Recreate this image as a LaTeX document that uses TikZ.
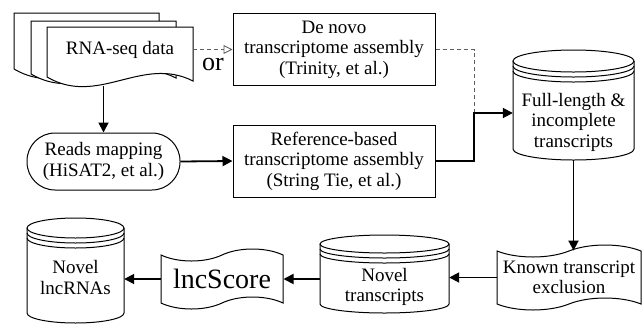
\documentclass[tikz,border=0pt]{standalone}
\usepackage{fontspec}
\setmainfont{Liberation Serif}
\usepackage{tikz}
\usetikzlibrary{arrows.meta,positioning,calc,shapes.symbols}
\newcommand{\sheet}[4]{%
  \draw[shp, fill=white] (#1,-#3) -- (#2,-#3) -- (#2,{-(#4+4)})
    .. controls ({#1+0.65*(#2-#1)},{-(#4-22)}) and ({#1+0.35*(#2-#1)},{-(#4+30)}) .. (#1,-#4) -- cycle;}
\newcommand{\drum}[6]{%
  \draw[shp] (#2,{-(#4+#6)}) -- (#2,{-(#5-#6)})
    arc[start angle=180, end angle=360, x radius={(#3-#2)/2}, y radius=#6]
    -- (#3,{-(#4+#6)});
  \draw[shp] ({(#2+#3)/2},{-(#4+#6)}) ellipse[x radius={(#3-#2)/2}, y radius=#6];
  \foreach \rr in {5,10}
    \draw[shp] (#2,{-(#4+#6+\rr)}) arc[start angle=180, end angle=360, x radius={(#3-#2)/2}, y radius=#6];
  \coordinate (#1-bot) at ({(#2+#3)/2},{-#5});}
\tikzset{
  shp/.style     = {line width=1pt},
  txt/.style     = {align=center, inner sep=0pt},
  box/.style     = {txt, draw, line width=1pt, minimum width=202pt, minimum height=72pt},
  pill/.style    = {txt, draw, line width=1pt, rounded corners=28pt,
                    minimum width=153pt, minimum height=57pt},
  tapebox/.style = {txt, tape, draw, line width=1pt, tape bend top=in and out,
                    tape bend bottom=in and out, tape bend height=12pt},
  arr/.style     = {->, line width=1.8pt},
  dsh/.style     = {line width=0.9pt, draw=gray!75!black, dash pattern=on 4pt off 3pt},
  big/.style     = {font=\fontsize{28}{30}\selectfont},
}
\begin{document}
\begin{tikzpicture}[x=1pt, y=1pt, >={Triangle[length=10pt,width=10pt]},
    font=\fontsize{19}{20.5}\selectfont]
  \useasboundingbox (0,0) rectangle (643,-325);

  \sheet{14}{159}{13}{69}
  \sheet{31}{176}{21}{74}
  \sheet{47}{193}{27}{77}
  \node[txt, minimum width=146pt, minimum height=45pt] (rna) at (120,-49.5) {RNA-seq data};

  \node[box] (denovo) at (334,-49.5) {De novo\\transcriptome assembly\\(Trinity, et al.)};
  \node[box] (ref) at (334,-161) {Reference-based\\transcriptome assembly\\(String Tie, et al.)};
  \node[pill] (reads) at (103.5,-161.5) {Reads mapping\\(HiSAT2, et al.)};

  \drum{full}{513}{634}{50}{160}{11}
  \node[txt, minimum width=121pt] (full) at (573.5,-122) {Full-length \&\\incomplete\\transcripts};

  \node[tapebox, minimum width=144pt, minimum height=65pt] (known) at (569,-277.5) {Known transcript\\exclusion};

  \drum{novel}{320}{449}{235}{313}{9}
  \node[txt, minimum width=129pt] (novel) at (384.5,-287) {Novel\\transcripts};

  \node[tapebox, big, minimum width=122pt, minimum height=60pt] (lnc) at (222,-279) {lncScore};

  \drum{lncrna}{27}{124}{218}{323}{10}
  \node[txt, minimum width=97pt] (lncrna) at (75.5,-277.5) {Novel\\lncRNAs};

  \coordinate (jn) at (474,-113);

  \draw[dsh, -{Triangle[open,length=9pt,width=9pt]}] (rna.east) -- node[midway, below=8pt, inner sep=0pt,
        font=\fontsize{26}{28}\selectfont] (or) {or} (denovo.west);
  \draw[arr] ([yshift=-14pt]rna.south -| reads.north) -- (reads.north);
  \draw[arr] (reads.east) -- (ref.west);
  \draw[dsh] (denovo.east) -| (jn);
  \draw[arr] (ref.east) -| (jn) -- (jn -| full.west);
  \draw[arr] (full-bot) -- (full-bot |- known.north);
  \draw[arr] (known.west) -- (known.west -| novel.east);
  \draw[arr] (lnc.east -| novel.west) -- (lnc.east);
  \draw[arr] (lnc.west) -- (lnc.west -| lncrna.east);
\end{tikzpicture}
\end{document}
